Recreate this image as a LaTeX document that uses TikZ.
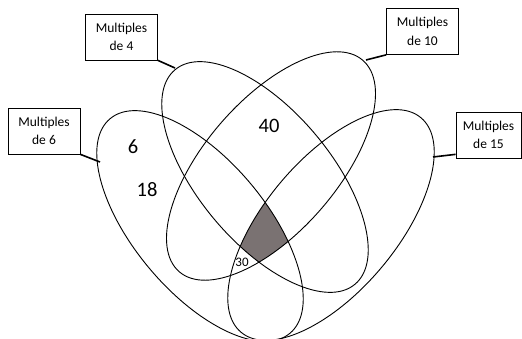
\documentclass[tikz,border=0pt]{standalone}
\usepackage{fontspec}
\setmainfont{Carlito}
\definecolor{coregray}{RGB}{122,114,114}
\tikzset{
  setline/.style={line width=0.9pt},
  labelbox/.style={draw, line width=0.7pt, minimum width=72pt, minimum height=46pt, align=center, inner sep=1pt, font=\fontsize{13.5}{18.5}\selectfont},
  tie/.style={line width=1.6pt},
  bignum/.style={font=\fontsize{20.5}{24}\selectfont},
  rotsix/.style={rotate around={-50:(200,226)}},
  rotfour/.style={rotate around={-50:(265,177)}},
  rotten/.style={rotate around={49:(271,166)}},
  rotfifteen/.style={rotate around={50:(331,225)}},
}
\begin{document}
\begin{tikzpicture}[x=1pt, y=-1pt]
    \useasboundingbox (0,0) rectangle (522,339);

    % the region common to all four sets
    \begin{scope}
        \clip[rotsix](200,226) ellipse [x radius=140pt, y radius=66pt];
        \clip[rotfour](265,177) ellipse [x radius=140pt, y radius=66pt];
        \clip[rotten](271,166) ellipse [x radius=140pt, y radius=66pt];
        \fill[coregray, rotfifteen](331,225) ellipse [x radius=140pt, y radius=66pt];
    \end{scope}

    \draw[setline, rotsix](200,226) ellipse [x radius=140pt, y radius=66pt];
    \draw[setline, rotfour](265,177) ellipse [x radius=140pt, y radius=66pt];
    \draw[setline, rotten](271,166) ellipse [x radius=140pt, y radius=66pt];
    \draw[setline, rotfifteen](331,225) ellipse [x radius=140pt, y radius=66pt];

    \node[labelbox] (box4) at(121.5,37){Multiples\\de 4};
    \node[labelbox] (box10) at(422.5,31.5){Multiples\\de 10};
    \node[labelbox] (box6) at(44,131){Multiples\\de 6};
    \node[labelbox, minimum width=65pt] (box15) at(488.5,135){Multiples\\de 15};

    \coordinate (tip4) at (175,68);
    \coordinate (tip10) at (366,60);
    \coordinate (tip6) at (100,162);
    \coordinate (tip15) at (433,157);
    \draw[tie](box4.south east) to (tip4);
    \draw[tie](box10.south west) to (tip10);
    \draw[tie](box6.south east) to (tip6);
    \draw[tie]([yshift=4pt]box15.south west) to (tip15);

    \node[bignum] (n6) at(133,147){6};
    \node[bignum] (n18) at(147,190){18};
    \node[bignum] (n40) at(269,126){40};
    \node[font=\fontsize{13}{15}\selectfont] (n30) at(242,262){30};
\end{tikzpicture}
\end{document}
